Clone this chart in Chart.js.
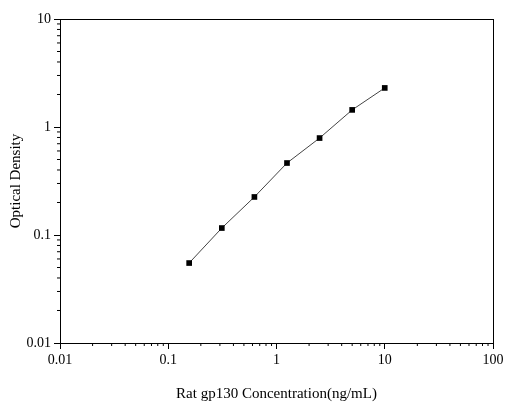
<!DOCTYPE html>
<html><head><meta charset="utf-8">
<script src="https://cdn.jsdelivr.net/npm/chart.js@4"></script>
<style>html,body{margin:0;padding:0;background:#fff}#w{width:520px;height:403px}</style>
</head><body><div id="w"><canvas id="c"></canvas></div>
<script>
const concentrations=[0.156,0.3125,0.625,1.25,2.5,5,10];
const densities=[0.055,0.116,0.225,0.464,0.79,1.44,2.30];
const xTicks=[0.01,0.1,1,10,100];
const yTicks=[0.01,0.1,1,10];
const font={family:"'Liberation Serif','Times New Roman',serif",size:14};
const decades=v=>v.map(x=>({value:x}));
const frame={id:'frame',afterDraw(ch){
  const {ctx,chartArea:a,scales}=ch;ctx.save();ctx.strokeStyle='#000';ctx.lineWidth=1;
  ctx.strokeRect(a.left+0.5,a.top+0.5,a.right-a.left,a.bottom-a.top);
  ctx.beginPath();
  for(let d=0;d<xTicks.length-1;d++)for(let k=2;k<10;k++){const px=scales.x.getPixelForValue(xTicks[d]*k);ctx.moveTo(px,a.bottom);ctx.lineTo(px,a.bottom+3);}
  for(let d=0;d<yTicks.length-1;d++)for(let k=2;k<10;k++){const py=scales.y.getPixelForValue(yTicks[d]*k);ctx.moveTo(a.left,py);ctx.lineTo(a.left-3,py);}
  ctx.stroke();ctx.restore();}};
new Chart(document.getElementById('c'),{type:'scatter',
data:{datasets:[{data:concentrations.map((x,i)=>({x,y:densities[i]})),showLine:true,borderColor:'#444',borderWidth:1,
 backgroundColor:'#000',pointStyle:'rect',pointRadius:4,pointBorderWidth:0}]},
options:{responsive:true,maintainAspectRatio:false,animation:false,
 layout:{padding:{top:19,right:27,left:3,bottom:0}},
 plugins:{legend:{display:false},tooltip:{enabled:false}},
 scales:{
  x:{type:'logarithmic',min:0.01,max:100,afterBuildTicks:s=>{s.ticks=decades(xTicks)},afterFit:s=>{s.height=60},
   grid:{drawOnChartArea:false,tickLength:6,color:'#000'},border:{color:'#000'},
   ticks:{color:'#000',font,maxRotation:0,callback:v=>String(v)},
   title:{display:true,text:'Rat gp130 Concentration(ng/mL)',color:'#000',font:{...font,size:15},padding:{top:2,bottom:0}}},
  y:{type:'logarithmic',min:0.01,max:10,afterBuildTicks:s=>{s.ticks=decades(yTicks)},afterFit:s=>{s.width=57},
   grid:{drawOnChartArea:false,tickLength:6,color:'#000'},border:{color:'#000'},
   ticks:{color:'#000',font,callback:v=>String(v)},
   title:{display:true,text:'Optical Density',color:'#000',font:{...font,size:15}}}
 }},plugins:[frame]});
</script></body></html>
